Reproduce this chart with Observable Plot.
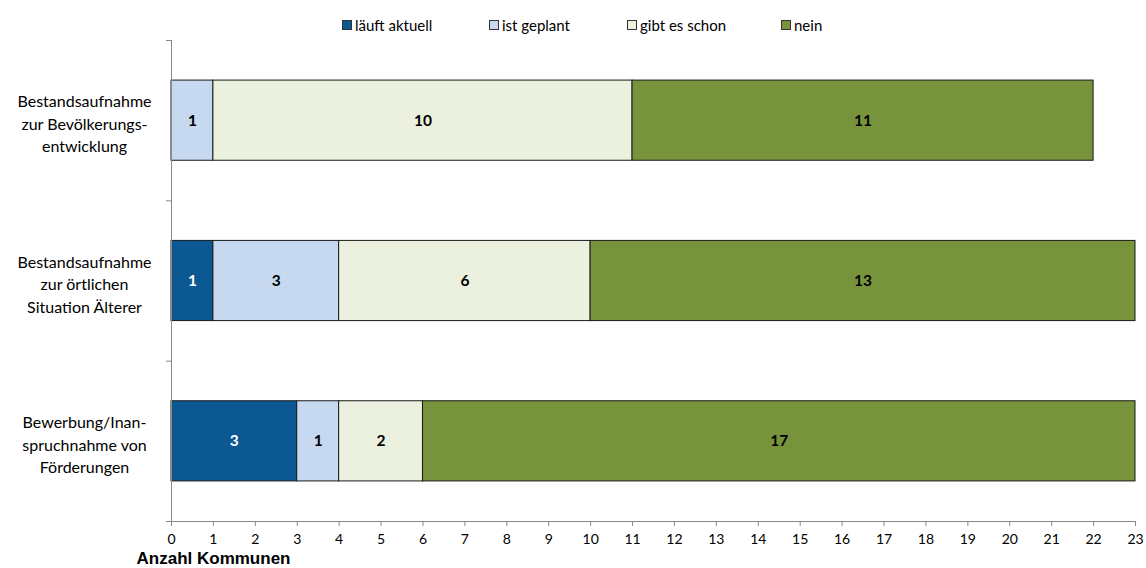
<!DOCTYPE html>
<html>
<head>
<meta charset="utf-8">
<script src="https://cdn.jsdelivr.net/npm/d3@7"></script>
<script src="https://cdn.jsdelivr.net/npm/@observablehq/plot@0.6"></script>
<style>
  html, body { margin: 0; padding: 0; background: #fff; }
  body { position: relative; width: 1146px; height: 568px; overflow: hidden; font-family: Lato, sans-serif; }
  #legend { position: absolute; top: 0; left: 0; width: 1146px; height: 40px; }
  .item { position: absolute; top: 16px; font-size: 15px; line-height: 18px; display: flex; align-items: center; color: #000; }
  .sw { width: 8px; height: 8px; border: 1px solid #333; margin-right: 3px; }
</style>
</head>
<body>
<div id="legend"></div>
<div id="chart"></div>
<script>
const categories = [
  "Bestandsaufnahme\nzur Bevölkerungs-\nentwicklung",
  "Bestandsaufnahme\nzur örtlichen\nSituation Älterer",
  "Bewerbung/Inan-\nspruchnahme von\nFörderungen"
];
const series = ["läuft aktuell", "ist geplant", "gibt es schon", "nein"];
const lauftAktuell = [0, 1, 3];
const istGeplant = [1, 3, 1];
const gibtEsSchon = [10, 6, 2];
const nein = [11, 13, 17];
const colors = ["#0C5893", "#C6D9F0", "#EBF1DE", "#77933C"];
const xTicks = d3.range(0, 24);
const xLabel = "Anzahl Kommunen";

const seriesValues = [lauftAktuell, istGeplant, gibtEsSchon, nein];
const rows = [];
categories.forEach((cat, i) => {
  let acc = 0;
  series.forEach((s, j) => {
    const v = seriesValues[j][i];
    if (v > 0) rows.push({cat, idx: i, series: s, value: v, x1: acc, x2: acc + v});
    acc += v;
  });
});

const legendLeft = [342, 489, 627, 781];
const legend = document.getElementById("legend");
series.forEach((s, j) => {
  const d = document.createElement("div");
  d.className = "item";
  d.style.left = legendLeft[j] + "px";
  d.innerHTML = `<span class="sw" style="background:${colors[j]}"></span><span>${s}</span>`;
  legend.appendChild(d);
});

const chart = Plot.plot({
  width: 1146,
  height: 568,
  marginTop: 40,
  marginBottom: 47,
  marginLeft: 171,
  marginRight: 11,
  style: {fontFamily: "Lato, sans-serif", fontSize: "15px", color: "#000", background: "transparent"},
  x: {domain: [0, 23], ticks: xTicks},
  y: {domain: [0, 3], reverse: true},
  color: {domain: series, range: colors},
  marks: [
    Plot.rectX(rows, {
      x1: "x1", x2: "x2",
      y1: d => d.idx + 0.25, y2: d => d.idx + 0.75,
      fill: "series", stroke: "#1a1a1a", strokeWidth: 1
    }),
    Plot.ruleX([0], {stroke: "#898989"}),
    Plot.ruleY([3], {stroke: "#898989"}),
    Plot.axisX({ticks: xTicks, tickSize: 5, tickPadding: 8, stroke: "#898989", fill: "#000", fontSize: 14, label: null}),
    Plot.axisY({ticks: [0, 1, 2, 3], tickSize: 5, tickFormat: () => "", stroke: "#898989", label: null}),
    Plot.text(rows, {
      x: d => (d.x1 + d.x2) / 2, y: d => d.idx + 0.5,
      text: d => String(d.value),
      fill: d => d.series === "läuft aktuell" ? "#fff" : "#000",
      fontWeight: "bold", fontSize: 15.5
    }),
    Plot.text(categories, {
      x: () => 0, y: (d, i) => i + 0.5, text: d => d,
      dx: -87, dy: 2, textAnchor: "middle", lineHeight: 1.4, fontSize: 16, fill: "#000"
    }),
    Plot.text([xLabel], {
      frameAnchor: "bottom-left", dx: 42, dy: 42, textAnchor: "middle",
      fontFamily: "'Liberation Sans', Arial, sans-serif", fontWeight: "bold", fontSize: 17, fill: "#000"
    })
  ]
});
document.getElementById("chart").appendChild(chart);
</script>
</body>
</html>
